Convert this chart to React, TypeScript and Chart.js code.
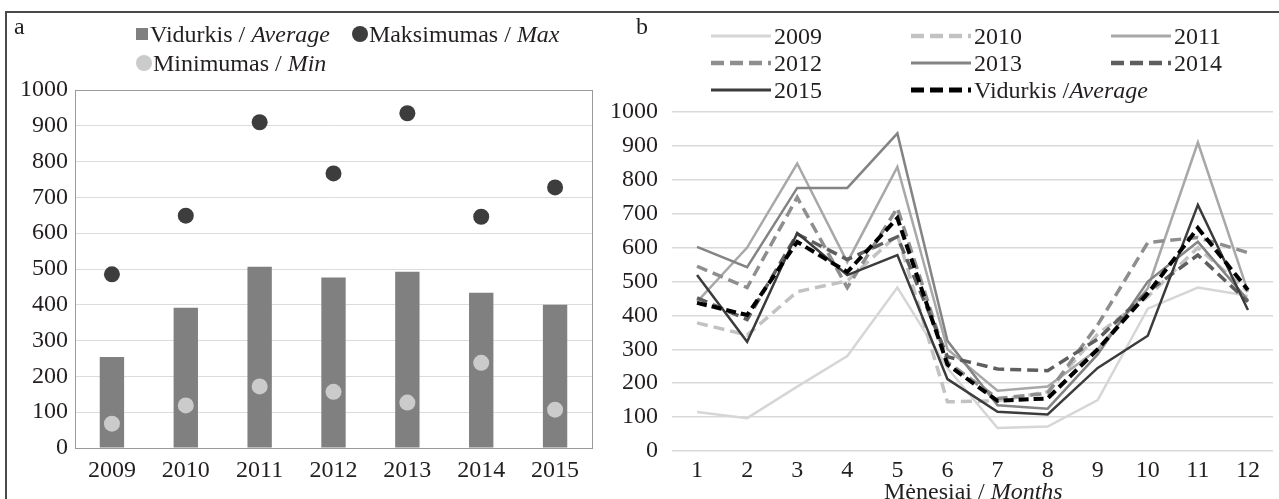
import React, { useEffect, useRef } from "react";
import { Chart, registerables } from "chart.js";

Chart.register(...registerables);

// ---------- Panel a data ----------
const years = ["2009", "2010", "2011", "2012", "2013", "2014", "2015"];
const averageValues = [254, 392, 506, 476, 492, 434, 400];
const maxValues = [485, 649, 910, 767, 935, 646, 728];
const minValues = [68, 119, 172, 157, 127, 238, 107];

// ---------- Panel b data ----------
const months = ["1", "2", "3", "4", "5", "6", "7", "8", "9", "10", "11", "12"];
const s2009 = [115, 97, 190, 280, 482, 245, 68, 72, 150, 420, 482, 458];
const s2010 = [378, 342, 470, 502, 638, 145, 148, 175, 345, 455, 600, 470];
const s2011 = [440, 600, 848, 557, 838, 300, 178, 190, 300, 480, 910, 470];
const s2012 = [545, 482, 748, 482, 717, 262, 155, 170, 372, 615, 630, 585];
const s2013 = [602, 542, 776, 776, 937, 325, 135, 125, 285, 500, 617, 445];
const s2014 = [452, 388, 640, 565, 632, 278, 242, 237, 330, 470, 578, 440];
const s2015 = [519, 322, 643, 519, 578, 212, 116, 108, 245, 340, 726, 416];
const sAverage = [437, 401, 617, 528, 687, 255, 148, 155, 300, 465, 658, 475];

const yMin = 0;
const yMax = 1000;
const yStep = 100;

const FONT = "'Liberation Serif', 'Times New Roman', serif";
const TEXT = "#231f20";

type SeriesStyle = { label: string; data: number[]; color: string; dash: number[]; width: number; order: number };
const lineSeries: SeriesStyle[] = [
  { label: "2009", data: s2009, color: "#d6d6d6", dash: [], width: 2.5, order: 8 },
  { label: "2010", data: s2010, color: "#c2c2c2", dash: [11, 6], width: 3.5, order: 7 },
  { label: "2011", data: s2011, color: "#a8a8a8", dash: [], width: 2.5, order: 6 },
  { label: "2012", data: s2012, color: "#8e8e8e", dash: [11, 6], width: 3.5, order: 5 },
  { label: "2013", data: s2013, color: "#848484", dash: [], width: 2.5, order: 4 },
  { label: "2014", data: s2014, color: "#5e5e5e", dash: [11, 6], width: 3.5, order: 3 },
  { label: "2015", data: s2015, color: "#3c3c3c", dash: [], width: 2.5, order: 2 },
  { label: "Vidurkis /Average", data: sAverage, color: "#000000", dash: [10, 5], width: 4, order: 1 },
];

const framePlugin = {
  id: "frame",
  beforeDatasetsDraw(chart: any) {
    const { ctx, chartArea: a } = chart;
    ctx.save();
    ctx.strokeStyle = "#9a9a9a";
    ctx.lineWidth = 1;
    ctx.strokeRect(a.left + 0.5, a.top + 0.5, a.width, a.height);
    ctx.restore();
  },
};

const tickFont = { family: FONT, size: 24 };
const plainNumber = (v: any) => String(v);

export default function App() {
  const refA = useRef<HTMLCanvasElement>(null);
  const refB = useRef<HTMLCanvasElement>(null);

  useEffect(() => {
    const chartA = new Chart(refA.current as HTMLCanvasElement, {
      type: "bar",
      data: {
        labels: years,
        datasets: [
          {
            type: "line",
            label: "Maksimumas / Max",
            data: maxValues,
            showLine: false,
            pointRadius: 8,
            pointBackgroundColor: "#3d3d3d",
            pointBorderWidth: 0,
            order: 0,
          } as any,
          {
            type: "line",
            label: "Minimumas / Min",
            data: minValues,
            showLine: false,
            pointRadius: 8,
            pointBackgroundColor: "#cbcbcb",
            pointBorderWidth: 0,
            order: 0,
          } as any,
          {
            type: "bar",
            label: "Vidurkis / Average",
            data: averageValues,
            backgroundColor: "#808080",
            barPercentage: 0.33,
            categoryPercentage: 1,
            order: 1,
          } as any,
        ],
      },
      options: {
        responsive: false,
        animation: false,
        layout: { padding: { left: 0, top: 90, right: 38, bottom: 11 } },
        plugins: { legend: { display: false }, tooltip: { enabled: false } },
        scales: {
          x: {
            grid: { display: false, drawTicks: false },
            border: { display: false },
            ticks: { font: tickFont, color: TEXT, padding: 8, maxRotation: 0 },
            afterFit: (s: any) => { s.height = 40; },
          },
          y: {
            min: yMin,
            max: yMax,
            grid: { color: "#dcdcdc", lineWidth: 1, drawTicks: false },
            border: { display: false },
            ticks: { stepSize: yStep, font: tickFont, color: TEXT, padding: 7, callback: plainNumber },
            afterFit: (s: any) => { s.width = 75; },
          },
        },
      },
      plugins: [framePlugin],
    } as any);

    const chartB = new Chart(refB.current as HTMLCanvasElement, {
      type: "line",
      data: {
        labels: months,
        datasets: lineSeries.map((s) => ({
          label: s.label,
          data: s.data,
          borderColor: s.color,
          borderDash: s.dash,
          borderWidth: s.width,
          pointRadius: 0,
          tension: 0,
          fill: false,
          order: s.order,
        })),
      },
      options: {
        responsive: false,
        animation: false,
        layout: { padding: { left: 0, top: 112, right: 6, bottom: 18 } },
        plugins: { legend: { display: false }, tooltip: { enabled: false } },
        scales: {
          x: {
            offset: true,
            grid: { display: false, drawTicks: false },
            border: { display: false },
            ticks: { font: tickFont, color: TEXT, padding: 5, maxRotation: 0, autoSkip: false },
            afterFit: (s: any) => { s.height = 30; },
          },
          y: {
            min: yMin,
            max: yMax,
            grid: { color: "#d9d9d9", lineWidth: 1.5, drawTicks: false },
            border: { display: false },
            ticks: { stepSize: yStep, font: tickFont, color: TEXT, padding: 14, callback: plainNumber },
            afterFit: (s: any) => { s.width = 72; },
          },
        },
      },
    } as any);

    return () => {
      chartA.destroy();
      chartB.destroy();
    };
  }, []);

  const textStyle: React.CSSProperties = {
    position: "absolute",
    fontFamily: FONT,
    fontSize: 24,
    lineHeight: "28px",
    color: TEXT,
    whiteSpace: "nowrap",
  };

  const LegendLine = ({ x, y, s }: { x: number; y: number; s: SeriesStyle }) => {
    const parts = s.label.split("/");
    return (
      <div style={{ ...textStyle, left: x, top: y - 14, display: "flex", alignItems: "center" }}>
        <svg width={60} height={10} style={{ marginRight: 3 }}>
          <line
            x1={0}
            y1={5}
            x2={60}
            y2={5}
            stroke={s.color}
            strokeWidth={s.label.startsWith("Vid") ? 5 : s.dash.length ? 4.5 : 3}
            strokeDasharray={s.dash.length ? "13 6" : undefined}
          />
        </svg>
        {parts.length > 1 ? (
          <span>
            {parts[0]}/<i>{parts[1]}</i>
          </span>
        ) : (
          <span>{s.label}</span>
        )}
      </div>
    );
  };

  const colX = [711, 911, 1111];
  const rowY = [36, 63, 90];

  return (
    <div
      style={{
        position: "absolute",
        left: 0,
        top: 0,
        width: 1279,
        height: 499,
        overflow: "hidden",
        background: "#fff",
      }}
    >
      {/* frame lines */}
      <div style={{ position: "absolute", left: 5, top: 11, width: 1274, height: 2, background: "#4a4a4a" }} />
      <div style={{ position: "absolute", left: 5, top: 11, width: 2, height: 488, background: "#4a4a4a" }} />

      <canvas ref={refA} width={630} height={499} style={{ position: "absolute", left: 0, top: 0 }} />
      <canvas ref={refB} width={679} height={499} style={{ position: "absolute", left: 600, top: 0 }} />

      {/* Panel a label + legend */}
      <div style={{ ...textStyle, left: 14, top: 12 }}>a</div>
      <div style={{ ...textStyle, left: 136, top: 34 - 14, display: "flex", alignItems: "center" }}>
        <span style={{ width: 12, height: 12, background: "#808080", display: "inline-block", marginRight: 2 }} />
        <span>
          Vidurkis / <i>Average</i>
        </span>
        <span
          style={{ width: 16, height: 16, borderRadius: 8, background: "#3d3d3d", display: "inline-block", marginLeft: 22, marginRight: 1 }}
        />
        <span>
          Maksimumas / <i>Max</i>
        </span>
      </div>
      <div style={{ ...textStyle, left: 136, top: 63 - 14, display: "flex", alignItems: "center" }}>
        <span style={{ width: 16, height: 16, borderRadius: 8, background: "#cbcbcb", display: "inline-block", marginRight: 1 }} />
        <span>
          Minimumas / <i>Min</i>
        </span>
      </div>

      {/* Panel b label + legend */}
      <div style={{ ...textStyle, left: 636, top: 12 }}>b</div>
      {lineSeries.map((s, i) => (
        <LegendLine key={s.label} x={colX[i % 3]} y={rowY[Math.floor(i / 3)]} s={s} />
      ))}

      {/* Panel b axis title */}
      <div style={{ ...textStyle, left: 884, top: 477 }}>
        Mėnesiai / <i>Months</i>
      </div>
    </div>
  );
}
